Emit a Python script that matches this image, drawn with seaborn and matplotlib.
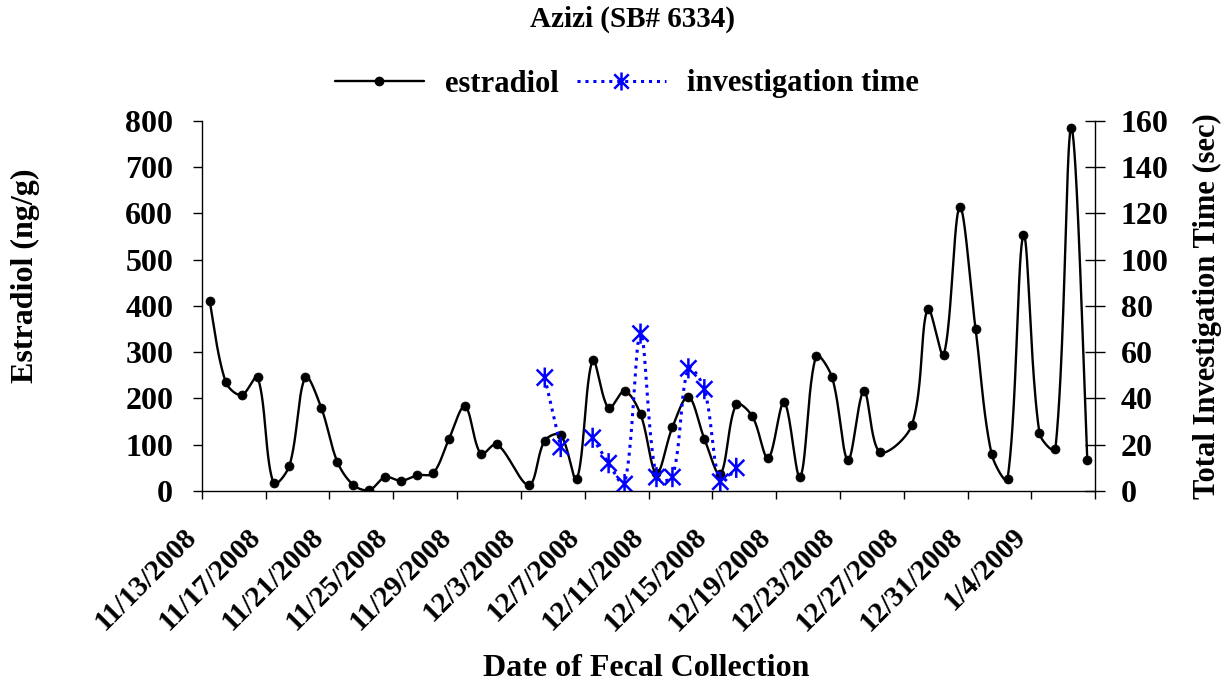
import numpy as np
import pandas as pd
import matplotlib
matplotlib.use("Agg")
import matplotlib.pyplot as plt
import matplotlib.transforms as mtransforms
from matplotlib.path import Path
from matplotlib.lines import Line2D
import seaborn as sns

# ---- data -------------------------------------------------------------
estradiol_dates = [
    "11/13/2008", "11/14/2008", "11/15/2008", "11/16/2008", "11/17/2008",
    "11/18/2008", "11/19/2008", "11/20/2008", "11/21/2008", "11/22/2008",
    "11/23/2008", "11/24/2008", "11/25/2008", "11/26/2008", "11/27/2008",
    "11/28/2008", "11/29/2008", "11/30/2008", "12/1/2008", "12/3/2008",
    "12/4/2008", "12/5/2008", "12/6/2008", "12/7/2008", "12/8/2008",
    "12/9/2008", "12/10/2008", "12/11/2008", "12/12/2008", "12/13/2008",
    "12/14/2008", "12/15/2008", "12/16/2008", "12/17/2008", "12/18/2008",
    "12/19/2008", "12/20/2008", "12/21/2008", "12/22/2008", "12/23/2008",
    "12/24/2008", "12/25/2008", "12/27/2008", "12/28/2008", "12/29/2008",
    "12/30/2008", "12/31/2008", "1/1/2009", "1/2/2009", "1/3/2009",
    "1/4/2009", "1/5/2009", "1/6/2009", "1/7/2009",
]
estradiol = [
    410, 236, 207, 246, 17, 55, 246, 179, 63, 13,
    2, 30, 22, 34, 38, 113, 183, 80, 101, 13,
    109, 121, 25, 282, 179, 216, 166, 38, 138, 204,
    113, 36, 187, 162, 71, 192, 30, 291, 246, 67,
    216, 84, 142, 394, 294, 613, 349, 80, 26, 552,
    125, 91, 784, 67,
]

investigation_dates = [
    "12/4/2008", "12/5/2008", "12/7/2008", "12/8/2008", "12/9/2008",
    "12/10/2008", "12/11/2008", "12/12/2008", "12/13/2008", "12/14/2008",
    "12/15/2008", "12/16/2008",
]
investigation_time = [49, 19, 23, 12, 3, 68, 6, 6, 53, 44, 4, 10]

tick_labels = [
    "11/13/2008", "11/17/2008", "11/21/2008", "11/25/2008", "11/29/2008",
    "12/3/2008", "12/7/2008", "12/11/2008", "12/15/2008", "12/19/2008",
    "12/23/2008", "12/27/2008", "12/31/2008", "1/4/2009",
]
axis_start = "11/13/2008"
axis_days = 56

# ---- layout (pixels) --------------------------------------------------
W, H = 1232, 685
left_px, right_px, top_px, bottom_px = 201.7, 1095.3, 120.7, 491.0
px_per_day = (right_px - left_px) / axis_days

# ---- helpers ----------------------------------------------------------
start = pd.to_datetime(axis_start, format="%m/%d/%Y")


def day_pos(dates):
    """Centre of each day's slot on the date axis, in days from the start."""
    d = pd.to_datetime(pd.Series(dates), format="%m/%d/%Y")
    return ((d - start).dt.days + 0.5).to_numpy(dtype=float)


def smooth(x, y, sx, sy, n=40):
    """Bezier smoothing through every point.

    Tangents follow the neighbouring points; the handle on each side is
    scaled by that side's on-screen segment length so short hops next to
    tall spikes do not overshoot.
    """
    pts = np.column_stack([x, y]).astype(float)
    if len(pts) < 2:
        return pts[:, 0], pts[:, 1]
    scr = pts * np.array([sx, sy])
    seglen = np.hypot(*np.diff(scr, axis=0).T)
    k = len(pts)
    tan = np.zeros_like(pts)
    lw = np.ones(k)
    rw = np.ones(k)
    for i in range(k):
        p_prev = pts[max(i - 1, 0)]
        p_next = pts[min(i + 1, k - 1)]
        tan[i] = (p_next - p_prev) / 6.0
        if 0 < i < k - 1:
            dl, dr = seglen[i - 1], seglen[i]
            tot = dl + dr
            if tot > 0:
                lw[i] = 2 * dl / tot
                rw[i] = 2 * dr / tot
    t = np.linspace(0, 1, n)[:, None]
    out = []
    for i in range(k - 1):
        p1, p2 = pts[i], pts[i + 1]
        c1 = p1 + tan[i] * rw[i]
        c2 = p2 - tan[i + 1] * lw[i + 1]
        seg = ((1 - t) ** 3) * p1 + 3 * ((1 - t) ** 2) * t * c1 \
            + 3 * (1 - t) * t ** 2 * c2 + t ** 3 * p2
        out.append(seg if i == k - 2 else seg[:-1])
    out = np.vstack(out)
    return out[:, 0], out[:, 1]


def smooth_frame(x, y, sy, split_gaps):
    """Smoothed curve as a frame; a missing day breaks the line if asked."""
    x = np.asarray(x, float)
    y = np.asarray(y, float)
    if split_gaps:
        seg_id = np.concatenate([[0], np.cumsum(np.diff(x) > 1.5)])
    else:
        seg_id = np.zeros(len(x), int)
    frames = []
    for s in np.unique(seg_id):
        m = seg_id == s
        cx, cy = smooth(x[m], y[m], px_per_day, sy)
        frames.append(pd.DataFrame({"x": cx, "y": cy, "seg": s}))
    return pd.concat(frames, ignore_index=True)


e_x = day_pos(estradiol_dates)
i_x = day_pos(investigation_dates)
est_df = pd.DataFrame({"x": e_x, "y": estradiol})
inv_df = pd.DataFrame({"x": i_x, "y": investigation_time})
est_curve = smooth_frame(e_x, estradiol, (bottom_px - top_px) / 800,
                         split_gaps=False)
inv_curve = smooth_frame(i_x, investigation_time, (bottom_px - top_px) / 160,
                         split_gaps=True)

# ---- figure -----------------------------------------------------------
sns.set_theme(style="white")
plt.rcParams["font.family"] = ["Liberation Serif", "DejaVu Serif"]
plt.rcParams["font.weight"] = "bold"
for key in ("text.color", "axes.labelcolor", "xtick.color", "ytick.color",
            "axes.edgecolor"):
    plt.rcParams[key] = "black"

fig = plt.figure(figsize=(W / 100, H / 100), dpi=100)
ax = fig.add_axes([left_px / W, 1 - bottom_px / H,
                   (right_px - left_px) / W, (bottom_px - top_px) / H])
ax2 = ax.twinx()

blue = "#0000FF"
asterisk = Path([(-1, -1), (1, 1), (-1, 1), (1, -1), (0, -1.25), (0, 1.25)],
                [Path.MOVETO, Path.LINETO, Path.MOVETO, Path.LINETO,
                 Path.MOVETO, Path.LINETO])
dotted = (0, (1.0, 1.6))

# estradiol: smoothed black line with dot markers
sns.lineplot(data=est_curve, x="x", y="y", units="seg", estimator=None,
             sort=False, color="black", lw=1.7, ax=ax)
sns.scatterplot(data=est_df, x="x", y="y", color="black", s=42,
                edgecolor="black", linewidth=0.5, zorder=3, ax=ax)

# investigation time: smoothed blue dotted line with asterisks
sns.lineplot(data=inv_curve, x="x", y="y", units="seg", estimator=None,
             sort=False, color=blue, lw=2.2, ax=ax2)
for line in ax2.get_lines():
    line.set_linestyle(dotted)
sns.scatterplot(data=inv_df, x="x", y="y", marker=asterisk, s=210,
                facecolor="none", edgecolor=blue, color=blue,
                linewidth=1.8, zorder=4, ax=ax2)

# ---- axes -------------------------------------------------------------
ax.set_xlim(0, axis_days)
ax.set_ylim(0, 800)
ax2.set_ylim(0, 160)
ax.set_yticks(np.arange(0, 801, 100))
ax2.set_yticks(np.arange(0, 161, 20))
ax.set_xticks(np.arange(0, axis_days + 1, 4))
ax.set_xticklabels(tick_labels + [""], rotation=45, ha="right", va="top",
                   fontsize=21, fontweight="bold")
shift = mtransforms.ScaledTranslation(-14 / 100, 0, fig.dpi_scale_trans)
for lab in ax.get_xticklabels():
    lab.set_transform(lab.get_transform() + shift)
ax.set_xlabel("")
ax.set_ylabel("")
ax2.set_ylabel("")

for a in (ax, ax2):
    for sp in a.spines.values():
        sp.set_visible(False)
ax.spines["left"].set_visible(True)
ax.spines["bottom"].set_visible(True)
ax2.spines["right"].set_visible(True)
for sp in (ax.spines["left"], ax.spines["bottom"], ax2.spines["right"]):
    sp.set_color("black")
    sp.set_linewidth(1.0)

ax.tick_params(axis="y", direction="out", length=6.5, width=1, color="black",
               labelsize=23, pad=14, left=True)
ax.tick_params(axis="x", direction="out", length=6, width=1, color="black",
               pad=17, bottom=True)
ax2.tick_params(axis="y", direction="inout", length=15, width=1,
                color="black", labelsize=23, pad=11, right=True)
for lab in ax.get_yticklabels() + ax2.get_yticklabels():
    lab.set_fontweight("bold")

# ---- text -------------------------------------------------------------
fig.text(633 / W, 1 - 19 / H, "Azizi (SB# 6334)", ha="center", va="center",
         fontsize=21, fontweight="bold")
fig.text(646 / W, 1 - 669 / H, "Date of Fecal Collection", ha="center",
         va="center", fontsize=23, fontweight="bold")
fig.text(25 / W, 1 - 276 / H, "Estradiol (ng/g)", ha="center", va="center",
         rotation=90, fontsize=23, fontweight="bold")
fig.text(1207 / W, 1 - 306 / H, "Total Investigation Time (sec)",
         ha="center", va="center", rotation=90, fontsize=22,
         fontweight="bold")

handles = [
    Line2D([], [], color="black", lw=1.7, marker="o", markersize=6),
    Line2D([], [], color=blue, lw=2.2, linestyle=dotted,
           marker=asterisk, markersize=13, markeredgewidth=1.8,
           markerfacecolor="none", markeredgecolor=blue),
]
fig.legend(handles, ["estradiol", "investigation time"], loc="center",
           bbox_to_anchor=(627 / W, 1 - 84 / H), ncol=2, frameon=False,
           numpoints=1, handlelength=2.9, handletextpad=0.7,
           columnspacing=0.6, prop={"size": 22, "weight": "bold"})

fig.savefig("out.png", dpi=100)
